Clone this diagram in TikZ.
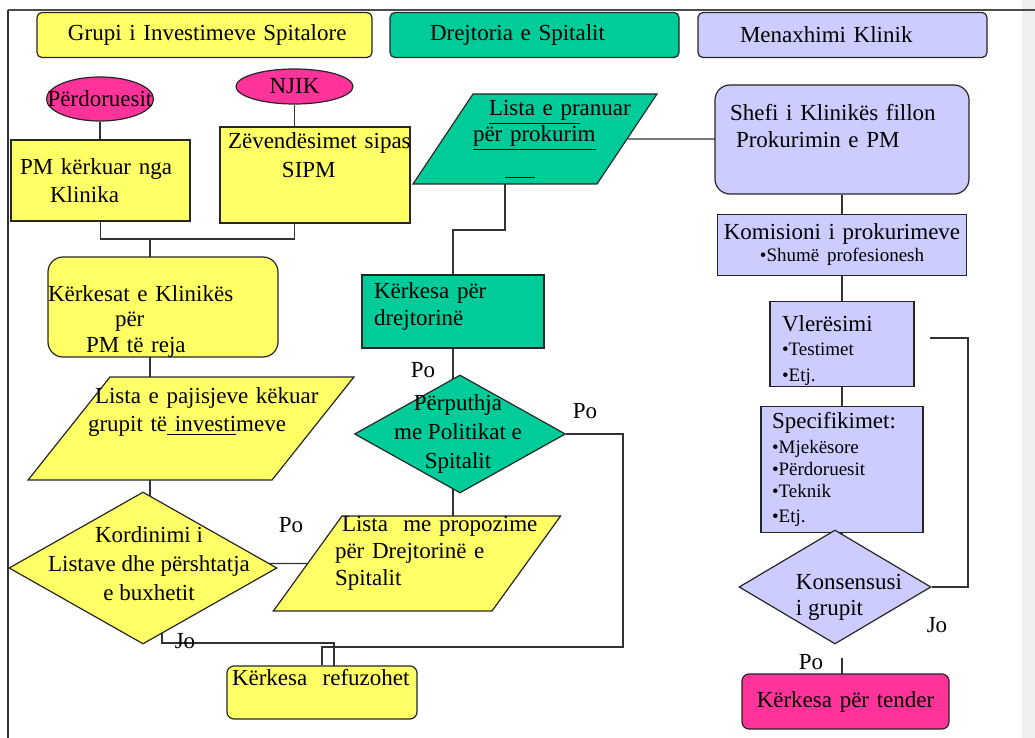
\documentclass[tikz,border=0pt]{standalone}
\usepackage{fontspec}
\setmainfont{Liberation Serif}
\usepackage{tikz}
\usetikzlibrary{shapes,arrows,positioning,calc,backgrounds}
\definecolor{grpyellow}{HTML}{FFFF66}
\definecolor{drjgreen}{HTML}{00CC99}
\definecolor{klnblue}{HTML}{CCCCFF}
\definecolor{hotpink}{HTML}{FF3399}
\newcommand{\mainsz}{\fontsize{11.5}{12.75}\selectfont}
\newcommand{\subsz}{\fontsize{9.5}{11}\selectfont}

\begin{document}
\begin{tikzpicture}[
    x=0.5pt, y=-0.5pt,
    box/.style={rectangle, draw=black!85, line width=0.6pt, inner sep=0pt, font=\mainsz, align=left},
    rbox/.style={box, rounded corners=7.5pt},
    head/.style={box, rounded corners=2.5pt, minimum height=22.5pt},
    para/.style={trapezium, trapezium stretches body, draw=black!85, line width=0.6pt, inner sep=0pt, font=\mainsz, align=left},
    cond/.style={diamond, draw=black!85, line width=0.6pt, inner sep=0pt},
    oval/.style={ellipse, draw=black!85, line width=0.6pt, fill=hotpink, inner sep=0pt, font=\mainsz},
    dtext/.style={align=center, inner sep=0pt, font=\fontsize{11.5}{14.5}\selectfont},
    answer/.style={inner sep=0pt, font=\mainsz},
    link/.style={draw=black!80, line width=0.6pt}
]
    \useasboundingbox (0,0) rectangle (1035,738);

    % column heads
    \node[head, fill=grpyellow, text width=167.5pt] (hgrp) at (204.5,35) {\hspace*{15.5pt}Grupi i Investimeve Spitalore};
    \node[head, fill=drjgreen, text width=144.5pt] (hdrj) at (534.5,35) {\hspace*{20pt}Drejtoria e Spitalit};
    \node[head, fill=klnblue, text width=144.5pt] (hkln) at (842.5,35) {\hspace*{21pt}Menaxhimi Klinik};

    % investment group
    \node[oval, minimum width=53.5pt, minimum height=22pt] (perd) at (100,99) {\makebox[0pt]{Përdoruesit}};
    \node[oval, minimum width=58.5pt, minimum height=17.5pt] (njik) at (294.5,86.5) {\makebox[0pt]{NJIK}};
    \node[box, fill=grpyellow, text width=89.5pt, minimum height=40.5pt] (pmk) at (100.5,180.5) {\hspace*{4.5pt}PM kërkuar nga\\[1.25pt]\hspace*{19.5pt}Klinika};
    \node[box, fill=grpyellow, text width=95pt, minimum height=48pt] (zev) at (315,175) {\mbox{\hspace*{4pt}Zëvendësimet sipas}\\[1.75pt]\hspace*{31pt}SIPM\rule[-19.5pt]{0pt}{0pt}};
    \node[rbox, fill=grpyellow, text width=115pt, minimum height=50pt] (kerk) at (163,307) {\rule{0pt}{22pt}Kërkesat e Klinikës\\\hspace*{33.5pt}për\\\hspace*{19pt}PM të reja};
    \node[para, fill=grpyellow, trapezium left angle=51.5, trapezium right angle=128.5, text width=81pt, minimum height=51.5pt] (listp) at (191,428.5) {\mbox{\rule{0pt}{13.1pt}\hspace*{-7.5pt}Lista e pajisjeve këkuar}\\[1.5pt]\mbox{\hspace*{-11pt}grupit të\underline{ investi}meve}\rule[-24.15pt]{0pt}{0pt}};
    \node[cond, fill=grpyellow, minimum width=134pt, minimum height=76pt, label={[name=kordt, dtext, xshift=3pt, yshift=2pt]center:{Kordinimi i\\Listave dhe përshtatja\\e buxhetit}}] (kord) at (143,568) {};
    \node[para, fill=grpyellow, trapezium left angle=54, trapezium right angle=126, text width=75pt, minimum height=47.5pt] (listd) at (417,563.5) {\mbox{Lista\ \ me propozime}\\[0.75pt]\mbox{\hspace*{-3.5pt}për Drejtorinë e}\\[0.75pt]\hspace*{-3.5pt}Spitalit\rule[-12.6pt]{0pt}{0pt}};
    \node[rbox, rounded corners=3.5pt, fill=grpyellow, text width=95pt, minimum height=26.5pt] (refuz) at (322,692.5) {\hspace*{2.5pt}Kërkesa\ \ refuzohet\rule[-15.4pt]{0pt}{0pt}};

    % hospital directorate
    \node[para, fill=drjgreen, trapezium left angle=56.3, trapezium right angle=123.7, text width=62pt, minimum height=45pt] (listpr) at (535,139) {\mbox{\rule{0pt}{10.9pt}\hspace*{8pt}\underline{Lista e pr}anuar}\\[0.25pt]\underline{për prokurim}\\[3.75pt]\hspace*{16pt}\underline{\hspace*{15pt}}\rule[-4.6pt]{0pt}{0pt}};
    \node[box, fill=drjgreen, text width=91pt, minimum height=36.5pt] (kdrj) at (453,311.5) {\hspace*{6pt}Kërkesa për\\[0.75pt]\hspace*{6pt}drejtorinë\rule[-7.9pt]{0pt}{0pt}};
    \node[cond, fill=drjgreen, minimum width=105.5pt, minimum height=59pt, label={[name=perpt, dtext, xshift=-1pt]center:{Përputhja\\me Politikat e\\Spitalit}}] (perp) at (460,434) {};

    % clinical management
    \node[rbox, fill=klnblue, text width=127pt, minimum height=54.5pt] (shefi) at (842,139.5) {\hspace*{7.5pt}Shefi i Klinikës fillon\\[0.75pt]\hspace*{10.5pt}Prokurimin e PM\rule[-13.9pt]{0pt}{0pt}};
    \node[box, fill=klnblue, text width=124.5pt, minimum height=30.5pt, align=center, below=9.5pt of shefi] (komis) {Komisioni i prokurimeve\\[-1.5pt]\subsz •Shumë profesionesh};
    \node[box, fill=klnblue, text width=72pt, minimum height=42.5pt, below=12.5pt of komis] (vler) {\hspace*{6pt}\rule{0pt}{14.6pt}Vlerësimi\\[1pt]\subsz\hspace*{6pt}•Testimet\\\hspace*{6pt}•Etj.};
    \node[box, fill=klnblue, text width=81pt, minimum height=63pt, below=9.5pt of vler] (spec) {\hspace*{5.5pt}Specifikimet:\\[1.5pt]\subsz\hspace*{5.5pt}•Mjekësore\\\hspace*{5.5pt}•Përdoruesit\\\hspace*{5.5pt}•Teknik\\\hspace*{5.5pt}•Etj.};
    \node[cond, fill=klnblue, minimum width=96pt, minimum height=57pt, label={[name=konst, dtext, align=left, xshift=7pt, yshift=-5pt]center:{Konsensusi\\[-1.5pt]i grupit}}] (kons) at (835,587) {};
    \node[rbox, rounded corners=3.5pt, fill=hotpink, text width=103.5pt, minimum height=27.5pt, align=center] (tender) at (845.5,701.5) {Kërkesa për tender};

    % answers
    \node[answer] (po1) at (423,370) {Po};
    \node[answer] (po2) at (585,411) {Po};
    \node[answer] (po3) at (291,525) {Po};
    \node[answer] (jo1) at (185,641) {Jo};
    \node[answer] (jo2) at (937,625) {Jo};
    \node[answer] (po4) at (811,662) {Po};

    \begin{scope}[on background layer]
        \fill[gray!12] (1022,0) rectangle (1035,738);
        \draw[black!80, line width=1pt] (8,738) -- (8,10);
        \draw[black!70, line width=0.6pt] (8,10) -- (1035,10);
        \coordinate (jn) at (150,239);
        \draw[link] (perd) -- (perd |- pmk);
        \draw[link] (njik) -- (njik |- zev);
        \draw[link] (pmk) |- (jn) -| (njik |- zev);
        \draw[link] (jn) -- (jn |- kord);
        \draw[link] ($(kord)+(19,0)$) -- ++(0,75) -| ($(refuz)+(12,0)$);
        \draw[link] (listd -| kord) -- (listd);
        \draw[link] (perp) -| ($(perp)+(163,213)$) -| (refuz);
        \draw[link] (kdrj) -- (kdrj |- listd);
        \draw[link] ($(listpr)+(-30,0)$) -- ++(0,91) -| (kdrj);
        \draw[link] (listpr) -- (listpr -| shefi);
        \draw[link] (shefi) -- (shefi |- kons);
        \coordinate (kpo) at (842,658);
        \draw[link] (kpo) -- (kpo |- tender);
        \coordinate (vjo) at (930,338);
        \draw[link] (kons) -| ($(vjo)+(38,0)$) -- (vjo);
    \end{scope}
\end{tikzpicture}
\end{document}
